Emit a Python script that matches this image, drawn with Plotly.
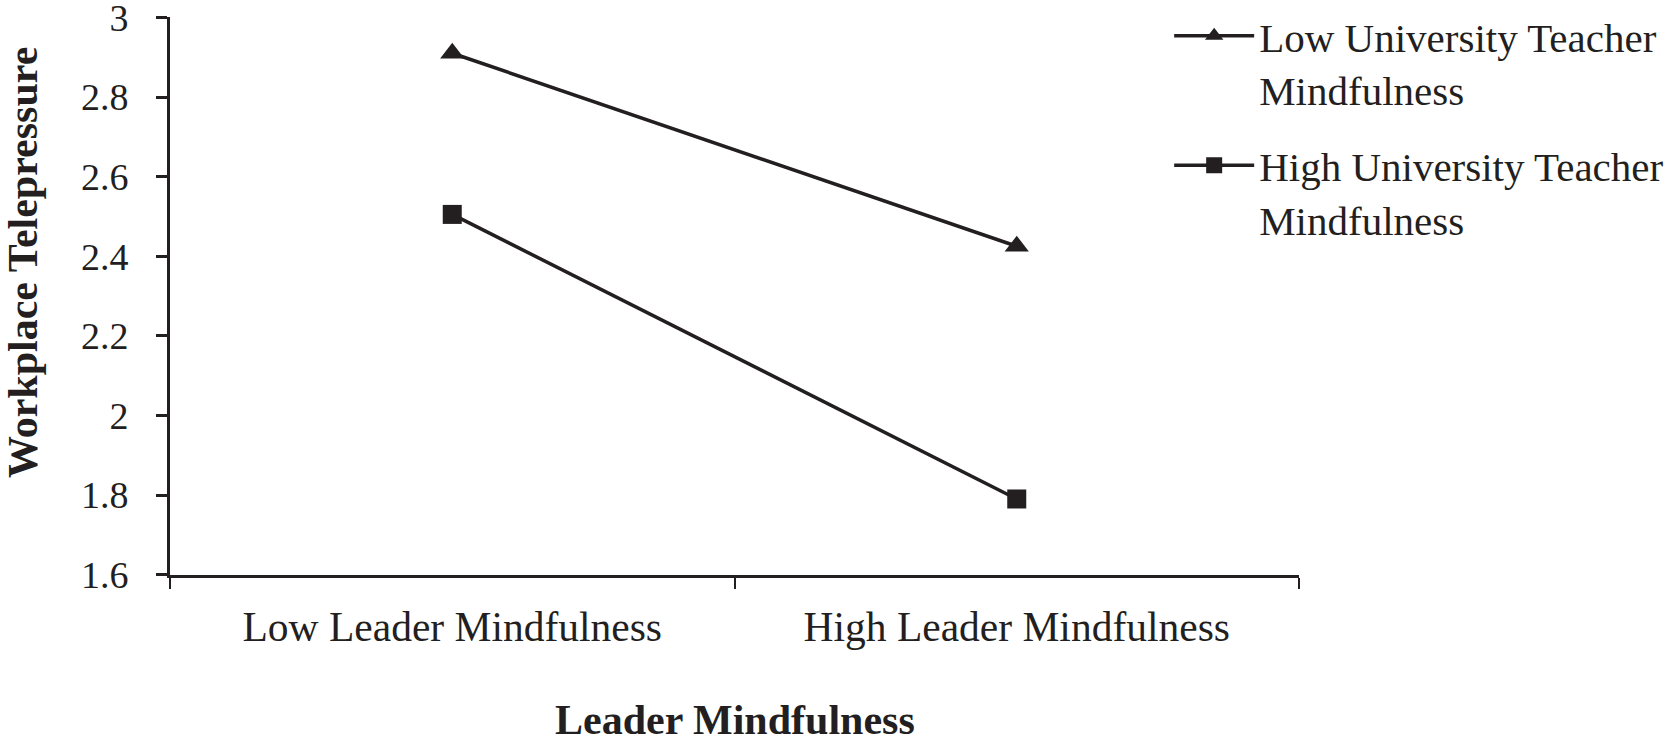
import plotly.graph_objects as go

categories = ["Low Leader Mindfulness", "High Leader Mindfulness"]
low_teacher = [2.91, 2.425]
high_teacher = [2.505, 1.79]
series_names = ["Low University Teacher<br>Mindfulness", "High University Teacher<br>Mindfulness"]
y_ticks = [1.6, 1.8, 2.0, 2.2, 2.4, 2.6, 2.8, 3.0]
y_tick_text = ["1.6", "1.8", "2", "2.2", "2.4", "2.6", "2.8", "3"]
x_title = "<b>Leader Mindfulness</b>"
y_title = "<b>Workplace Telepressure</b>"

INK = "#231f20"
FONT = "Liberation Serif, Times New Roman, serif"

fig = go.Figure()
fig.add_trace(go.Scatter(
    x=categories, y=low_teacher, name=series_names[0], mode="lines+markers",
    line=dict(color=INK, width=3.5), legendgroup="a",
    marker=dict(symbol="triangle-up", size=21, color=INK),
))
fig.add_trace(go.Scatter(
    x=categories, y=high_teacher, name=series_names[1], mode="lines+markers",
    line=dict(color=INK, width=3.5), legendgroup="b",
    marker=dict(symbol="square", size=19, color=INK),
))

L, R, T, B = 170, 377, 17, 168
fig.update_layout(
    width=1676, height=743,
    margin=dict(l=L, r=R, t=T, b=B, autoexpand=False),
    paper_bgcolor="white", plot_bgcolor="white",
    font=dict(family=FONT, color=INK, size=38),
    showlegend=True,
    legend=dict(
        x=0.885, xanchor="left", y=1.026, yanchor="top", valign="top",
        font=dict(size=41, family=FONT, color=INK),
        itemwidth=80, tracegroupgap=20, bgcolor="rgba(0,0,0,0)",
    ),
    annotations=[
        dict(text=x_title, xref="paper", yref="paper", x=0.5, y=0,
             xanchor="center", yanchor="middle", yshift=-145, showarrow=False,
             font=dict(size=42, family=FONT, color=INK)),
        dict(text=y_title, xref="paper", yref="paper", x=0, y=0.5, textangle=-90,
             xanchor="center", yanchor="middle", xshift=-147, yshift=33, showarrow=False,
             font=dict(size=42, family=FONT, color=INK)),
    ],
)
fig.update_xaxes(
    type="category", range=[-0.5, 1.5], tickson="boundaries",
    showline=True, linecolor=INK, linewidth=3,
    ticks="outside", ticklen=11, tickwidth=2, tickcolor=INK,
    showgrid=False, zeroline=False, ticklabelstandoff=13,
    tickfont=dict(size=41.5, family=FONT, color=INK),
)
fig.update_yaxes(
    range=[1.599, 3.001], tickvals=y_ticks, ticktext=y_tick_text,
    showline=True, linecolor=INK, linewidth=3,
    ticks="outside", ticklen=11, tickwidth=3, tickcolor=INK,
    showgrid=False, zeroline=False, ticklabelstandoff=20,
    ticklabeloverflow="allow",
    tickfont=dict(size=38, family=FONT, color=INK),
)

fig.write_html(
    "out.html",
    config={"displayModeBar": False},
    post_script="document.body.style.margin='0';document.body.style.overflow='hidden';",
)
